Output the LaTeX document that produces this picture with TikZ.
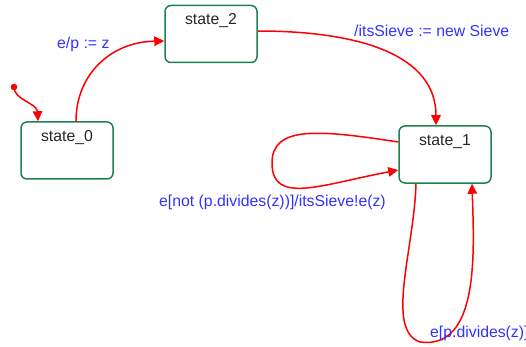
\documentclass[tikz,border=0pt]{standalone}
\usepackage{fontspec}
\setmainfont{Liberation Sans}
\usetikzlibrary{arrows.meta}
\definecolor{boxgreen}{RGB}{30,130,80}
\definecolor{lblblue}{RGB}{50,50,255}
\begin{document}
\begin{tikzpicture}[x=1pt,y=-1pt,
  every node/.style={font=\fontsize{15.8}{18}\selectfont},
  statebox/.style={draw=boxgreen, line width=1.5pt, rounded corners=6pt,
    minimum width=92pt, inner xsep=0pt, inner ysep=0pt,
    text height=19.5pt, text depth=37.5pt, text=black!85},
  trans/.style={draw=red, line width=1.5pt, -{Triangle[length=10pt,width=9.5pt]}},
  lbl/.style={text=lblblue, anchor=west, inner sep=0pt}]
\useasboundingbox (0,0) rectangle (526,347);
\node[statebox] (s0) at (67,150.5) {state\_0};
\node[statebox] (s2) at (211,34) {state\_2};
\node[statebox] (s1) at (445,154.5) {state\_1};
\fill[red] (14,87) circle (3.3pt);
\coordinate (init) at (14,87);
% initial
\draw[trans] (init) .. controls (14,100) and (37,103) .. (s0.north -| 38,0);
% e/p := z
\draw[trans] (s0.north -| 76,0) .. controls (76,75) and (110,42) .. (s2.west |- 0,41);
% /itsSieve := new Sieve
\draw[trans] (s2.east |- 0,31) .. controls (360,31) and (436,55) .. (s1.north -| 436,0);
% left self loop
\draw[trans] (s1.west |- 0,142) .. controls (320,130) and (272,125) .. (272,163)
  .. controls (272,205) and (320,185) .. (s1.west |- 0,170);
% bottom self loop
\draw[trans] (s1.south -| 416,0) .. controls (414,250) and (385,330) .. (420,342)
  .. controls (480,350) and (474,250) .. (s1.south -| 472,0);
\node[lbl] (l1) at (57,44) {e/p := z};
\node[lbl] (l2) at (354,31) {/itsSieve := new Sieve};
\node[lbl] (l3) at (159,202) {e[not (p.divides(z))]/itsSieve!e(z)};
\node[lbl] (l4) at (430,333) {e[p.divides(z)]};
\end{tikzpicture}
\end{document}
